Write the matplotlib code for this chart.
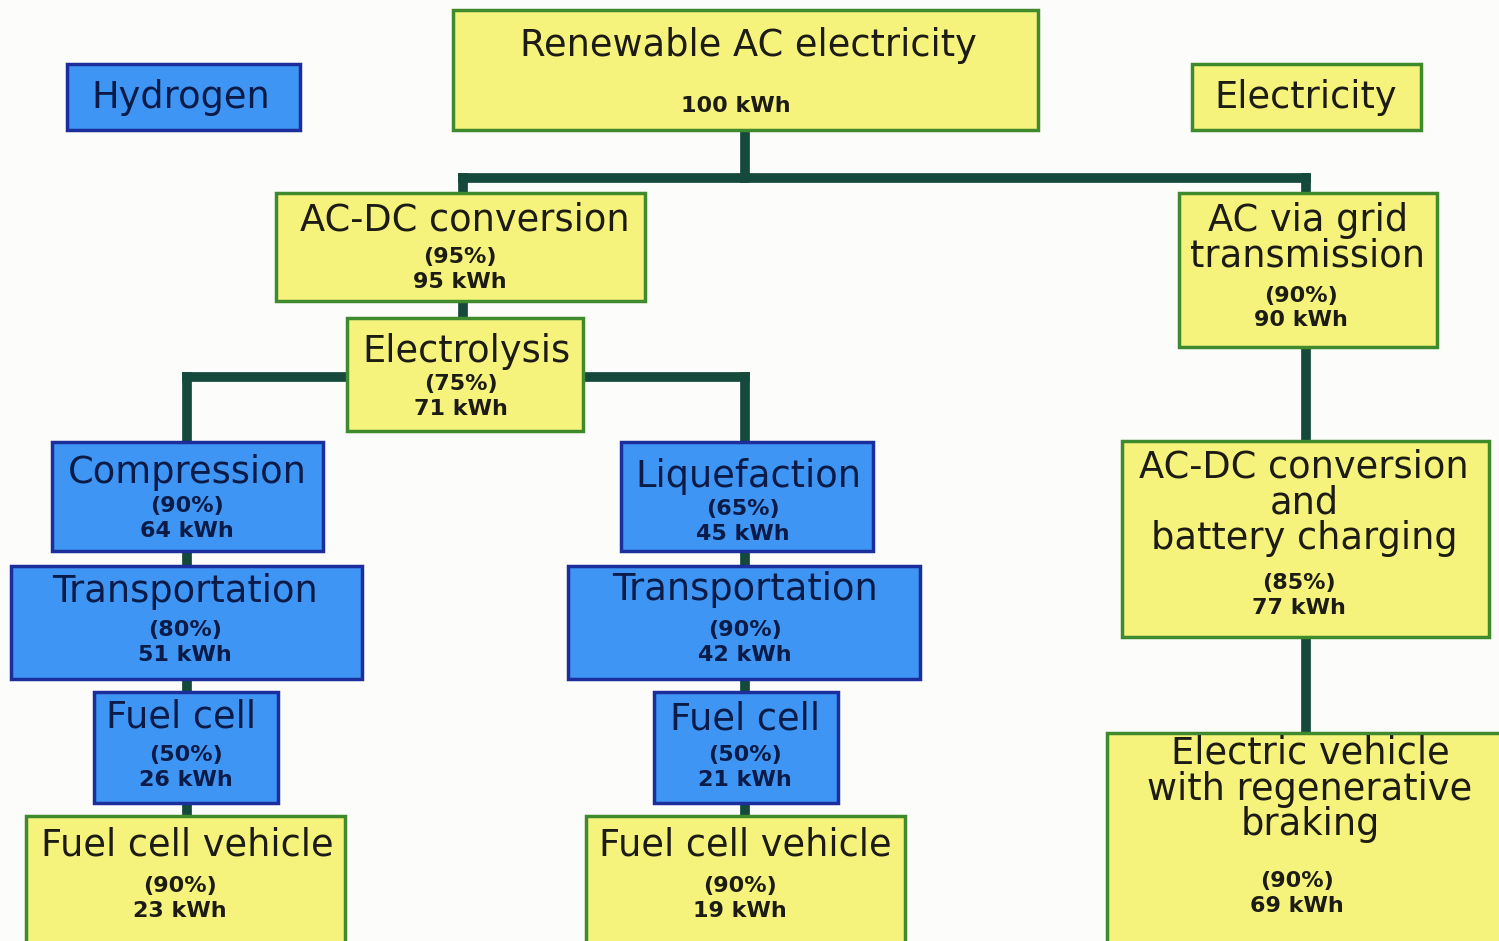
import matplotlib.pyplot as plt
from matplotlib.patches import Rectangle

# data
titles = ["Renewable AC electricity", "AC-DC conversion", "AC via grid\ntransmission",
          "Electrolysis", "Compression", "Liquefaction",
          "Transportation", "Transportation", "Fuel cell", "Fuel cell",
          "Fuel cell vehicle", "Fuel cell vehicle",
          "AC-DC conversion\nand\nbattery charging",
          "Electric vehicle\nwith regenerative\nbraking"]
efficiency = [None, 95, 90, 75, 90, 65, 80, 90, 50, 50, 90, 90, 85, 90]
energy_kwh = [100, 95, 90, 71, 64, 45, 51, 42, 26, 21, 23, 19, 77, 69]
carrier = ["E", "E", "E", "E", "H", "H", "H", "H", "H", "H", "E", "E", "E", "E"]

# layout (pixel boxes: x0, y0, x1, y1) and text rows
boxes = [(453, 10, 1038, 130), (276, 193, 645, 301), (1179, 193, 1437, 347),
         (347, 318, 583, 431), (52, 442, 323, 551), (621, 442, 873, 551),
         (11, 566, 362, 679), (568, 566, 920, 679), (94, 692, 278, 803),
         (654, 692, 838, 803), (26, 816, 345, 945), (586, 816, 905, 945),
         (1122, 441, 1489, 637), (1107, 733, 1502, 945)]
title_y = [45, 220, 238, 351, 472, 476, 592, 590, 717, 719, 845, 845, 503, 789]
pct_y = [None, 257, 296, 384, 506, 509, 630, 630, 755, 755, 886, 886, 583, 881]
kwh_y = [106, 282, 320, 409, 531, 534, 655, 655, 780, 780, 911, 911, 608, 906]
text_x = [748, 465, 1308, 466, 187, 748, 185, 745, 181, 745, 187, 745, 1304, 1310]
num_x = [736, 460, 1301, 461, 187, 743, 185, 745, 186, 745, 180, 740, 1299, 1297]

fill = {"E": "#f6f37c", "H": "#3f95f3"}
edge = {"E": "#3f8a2c", "H": "#1b2e9c"}
tcol = {"E": "#1c1c14", "H": "#0b1b48"}
line_c = "#14493c"
title_fs = 26.5
num_fs = 16

fig = plt.figure(figsize=(14.99, 9.41), dpi=100)
fig.patch.set_facecolor("#fcfcfa")
ax = fig.add_axes([0, 0, 1, 1])
ax.set_xlim(0, 1499)
ax.set_ylim(941, 0)
ax.axis("off")

# connectors
segs = [((745, 130), (745, 178)), ((463, 178), (1306, 178)),
        ((463, 178), (463, 193)), ((1306, 178), (1306, 193)),
        ((463, 301), (463, 318)), ((187, 377), (745, 377)),
        ((187, 377), (187, 442)), ((745, 377), (745, 442)),
        ((187, 551), (187, 816)), ((745, 551), (745, 816)),
        ((1306, 347), (1306, 441)), ((1306, 637), (1306, 733))]
for (x0, y0), (x1, y1) in segs:
    ax.plot([x0, x1], [y0, y1], color=line_c, lw=7, solid_capstyle="projecting", zorder=1)

for i, (x0, y0, x1, y1) in enumerate(boxes):
    c = carrier[i]
    ax.add_patch(Rectangle((x0, y0), x1 - x0, y1 - y0, facecolor=fill[c],
                           edgecolor=edge[c], lw=2.5, zorder=2))
    ax.text(text_x[i], title_y[i], titles[i], ha="center", va="center",
            fontsize=title_fs, color=tcol[c], linespacing=0.96, zorder=3)
    if efficiency[i] is not None:
        ax.text(num_x[i], pct_y[i], "(%d%%)" % efficiency[i], ha="center", va="center",
                fontsize=num_fs, fontweight="bold", color=tcol[c], zorder=3)
    ax.text(num_x[i], kwh_y[i], "%d kWh" % energy_kwh[i], ha="center", va="center",
            fontsize=num_fs, fontweight="bold", color=tcol[c], zorder=3)

# legend boxes
ax.add_patch(Rectangle((67, 64), 233, 66, facecolor=fill["H"], edgecolor=edge["H"], lw=2.5))
ax.text(181, 97, "Hydrogen", ha="center", va="center", fontsize=title_fs, color=tcol["H"])
ax.add_patch(Rectangle((1192, 64), 229, 66, facecolor=fill["E"], edgecolor=edge["E"], lw=2.5))
ax.text(1306, 97, "Electricity", ha="center", va="center", fontsize=title_fs, color=tcol["E"])

fig.savefig("out.png", dpi=100, facecolor=fig.get_facecolor())
